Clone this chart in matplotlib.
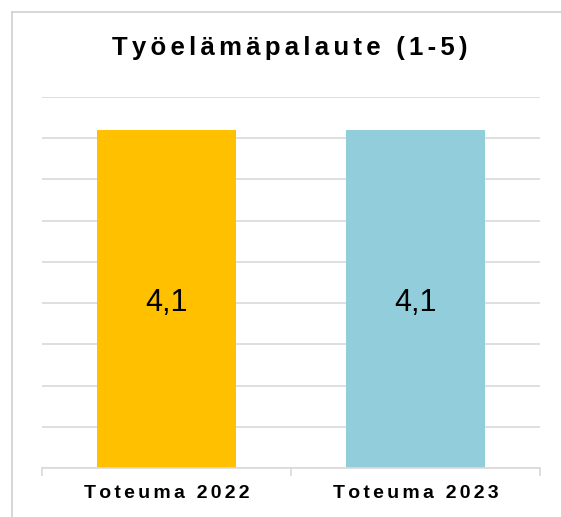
import matplotlib
matplotlib.use("Agg")
import matplotlib.pyplot as plt
from matplotlib.lines import Line2D

# data
categories = ["Toteuma 2022", "Toteuma 2023"]
values = [4.1, 4.1]
value_labels = ["4,1", "4,1"]
bar_colors = ["#FFC000", "#92CDDC"]
title = "Työelämäpalaute (1-5)"

plt.rcParams["font.family"] = ["Liberation Sans", "DejaVu Sans"]


def spaced(s, sep="\u200a\u200a"):
    # fake letter spacing with hair spaces
    return sep.join(s)


fig = plt.figure(figsize=(5.61, 5.17), dpi=100)
ax = fig.add_axes([42 / 561, 1 - 468 / 517, 498 / 561, 371 / 517])

x = range(len(categories))
bars = ax.bar(x, values, width=0.56, color=bar_colors, zorder=2)

for b, lab in zip(bars, value_labels):
    ax.annotate(lab, (b.get_x() + b.get_width() / 2, b.get_height() / 2),
                xytext=(0, -3), textcoords="offset points",
                ha="center", va="center", fontsize=22, color="black", zorder=3)

ax.set_xlim(-0.5, 1.5)
ax.set_ylim(0, 4.5)
ax.set_yticks([i * 0.5 for i in range(10)])
ax.yaxis.grid(True, color="#D9D9D9", linewidth=1.2, zorder=0)
ax.tick_params(axis="y", left=False, labelleft=False)

ax.set_xticks(list(x))
ax.set_xticklabels([spaced(c) for c in categories], fontsize=14, fontweight="bold")
ax.tick_params(axis="x", which="major", length=0, pad=12)
ax.set_xticks([-0.5, 0.5, 1.5], minor=True)
ax.tick_params(axis="x", which="minor", length=6, color="#D9D9D9", width=1.2)

for s in ["top", "right", "left"]:
    ax.spines[s].set_visible(False)
ax.spines["bottom"].set_color("#D9D9D9")
ax.spines["bottom"].set_linewidth(1.2)

fig.text(290 / 561, 1 - 48 / 517, spaced(title), ha="center", va="center",
         fontsize=18.5, fontweight="bold")

# outer chart border (runs off the right and bottom edges)
bx, by = 12 / 561, 1 - 12 / 517
fig.add_artist(Line2D([bx, bx], [-0.01, by], transform=fig.transFigure, color="#D0D0D0", lw=1.2))
fig.add_artist(Line2D([bx, 1.01], [by, by], transform=fig.transFigure, color="#D0D0D0", lw=1.2))

fig.savefig("out.png", dpi=100)
